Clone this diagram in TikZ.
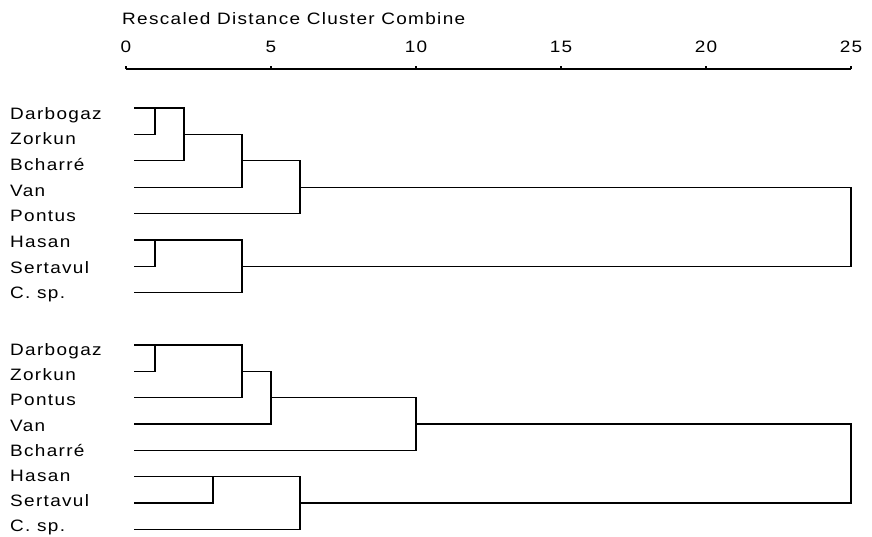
\documentclass[tikz,border=0pt]{standalone}
\usepackage{fontspec}
\setmainfont{Liberation Sans}[LetterSpace=8,FakeStretch=1.15]
\begin{document}
\begin{tikzpicture}[x=1pt,y=-1pt,
  dline/.style={line width=1.3pt,line cap=rect},
  lab/.style={anchor=base west,inner sep=0pt,font=\fontsize{16.5}{18}\selectfont},
  num/.style={anchor=base,inner sep=0pt,font=\fontsize{16.5}{18}\selectfont}]
\useasboundingbox (0,0) rectangle (872,536);
% title and axis
\node[lab] (title) at (122,24.5) {Rescaled Distance Cluster Combine};
\foreach \d/\t in {0/0,5/5,10/10,15/15,20/20,25/25}{
  \pgfmathsetmacro\xx{126+29*\d}
  \node[num] (n\d) at (\xx,52.5) {\t};
  \draw[line width=1.1pt] (\xx,69) -- (\xx,66);
}
\coordinate (ax0) at (126,69);
\coordinate (ax25) at (851,69);
\draw[line width=1.2pt] (ax0) -- (ax25);
% ---------- top tree ----------
\foreach \n/\t/\y/\b in {tD/Darbogaz/108/119,tZ/Zorkun/134.4/144.7,tB/Bcharré/160.8/170.4,tV/Van/187.2/196.1,tP/Pontus/213.6/221.8,tH/Hasan/240/247.5,tS/Sertavul/266.4/273.2,tC/C. sp./292.8/298.9}{
  \node[lab] (l\n) at (10,\b) {\t};
  \coordinate (\n) at (135,\y);
}
\coordinate (tDZa) at (155,108);  \coordinate (tDZb) at (155,134.4);
\coordinate (tB2a) at (184,108);  \coordinate (tB2b) at (184,160.8);
\coordinate (tV4a) at (242,134.4);\coordinate (tV4b) at (242,187.2);
\coordinate (tP6a) at (300,160.8);\coordinate (tP6b) at (300,213.6);
\coordinate (tHSa) at (155,240);  \coordinate (tHSb) at (155,266.4);
\coordinate (tC4a) at (242,240);  \coordinate (tC4b) at (242,292.8);
\coordinate (tFa) at (851,187.2); \coordinate (tFb) at (851,266.4);
\draw[dline] (tD) -- (tB2a) -- (tB2b) -- (tB);
\draw[dline] (tZ) -- (tDZb) -- (tDZa);
\draw[dline] (tB2b |- tV4a) -- (tV4a) -- (tV4b) -- (tV);
\draw[dline] (tV4a |- tP6a) -- (tP6a) -- (tP6b) -- (tP);
\draw[dline] (tP6a |- tFa) -- (tFa) -- (tFb) -- (tC4a |- tFb);
\draw[dline] (tH) -- (tC4a) -- (tC4b) -- (tC);
\draw[dline] (tS) -- (tHSb) -- (tHSa);
% ---------- bottom tree ----------
\foreach \n/\t/\y/\b in {bD/Darbogaz/345/355.5,bZ/Zorkun/371.3/380.7,bP/Pontus/397.6/405.9,bV/Van/424/431.1,bB/Bcharré/450.3/456.3,bH/Hasan/476.6/481.5,bS/Sertavul/503/506.7,bC/C. sp./529.3/531.9}{
  \node[lab] (l\n) at (10,\b) {\t};
  \coordinate (\n) at (135,\y);
}
\coordinate (bDZa) at (155,345);  \coordinate (bDZb) at (155,371.3);
\coordinate (bP4a) at (242,345);  \coordinate (bP4b) at (242,397.6);
\coordinate (bV5a) at (271,371.3);\coordinate (bV5b) at (271,424);
\coordinate (bB10a) at (416,397.6);\coordinate (bB10b) at (416,450.3);
\coordinate (bHSa) at (213,476.6);\coordinate (bHSb) at (213,503);
\coordinate (bC6a) at (300,476.6);\coordinate (bC6b) at (300,529.3);
\coordinate (bFa) at (851,424);   \coordinate (bFb) at (851,503);
\draw[dline] (bD) -- (bP4a) -- (bP4b) -- (bP);
\draw[dline] (bZ) -- (bDZb) -- (bDZa);
\draw[dline] (bP4a |- bV5a) -- (bV5a) -- (bV5b) -- (bV);
\draw[dline] (bV5a |- bB10a) -- (bB10a) -- (bB10b) -- (bB);
\draw[dline] (bB10a |- bFa) -- (bFa) -- (bFb) -- (bC6a |- bFb);
\draw[dline] (bH) -- (bC6a) -- (bC6b) -- (bC);
\draw[dline] (bS) -- (bHSb) -- (bHSa);
\end{tikzpicture}
\end{document}
